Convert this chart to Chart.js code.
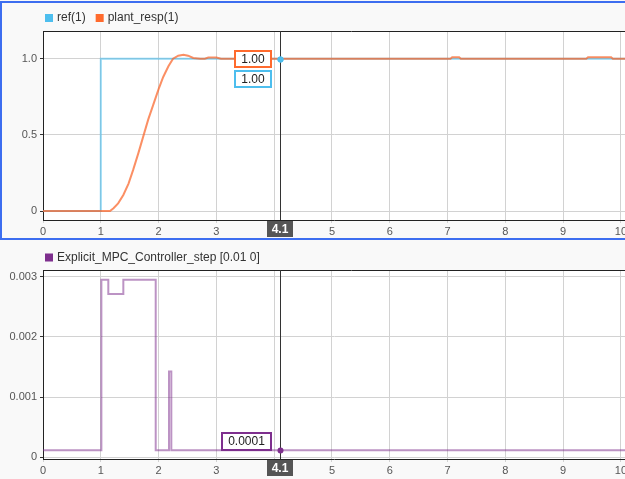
<!DOCTYPE html>
<html><head><meta charset="utf-8">
<script src="https://cdn.jsdelivr.net/npm/chart.js@4.4.0/dist/chart.umd.min.js"></script>
<style>
html,body{margin:0;padding:0;overflow:hidden;background:#f9f9f9;width:625px;height:479px;}
#top,#bot{position:absolute;left:0;width:660px;}
#top{top:0;height:240px}
#bot{top:240px;height:239px}
canvas{display:block}
</style></head><body>
<div id="top"><canvas id="c1" width="660" height="240"></canvas></div>
<div id="bot"><canvas id="c2" width="660" height="239"></canvas></div>
<script>
// ---- data ----
const refTime   = [0, 1.0, 1.0, 10.2];
const refValues = [0, 0,   1,   1];

const plantTime   = [0, 1.16, 1.22, 1.30, 1.39, 1.48, 1.56, 1.65, 1.735, 1.82, 1.91, 2.00, 2.08, 2.17, 2.25, 2.34, 2.43, 2.51, 2.60, 2.72, 2.80, 2.86, 3.00, 3.08, 7.05, 7.08, 7.20, 7.23, 9.40, 9.43, 9.83, 9.86, 10.2];
const plantValues = [0, 0,    0.018, 0.05, 0.105, 0.18, 0.27, 0.38, 0.49,  0.60, 0.70, 0.80, 0.88, 0.95, 1.00, 1.02, 1.026, 1.02, 1.005, 1.0, 1.0,  1.008, 1.008, 1.0, 1.0,  1.01, 1.01, 1.0,  1.0,  1.01, 1.01, 1.0,  1.0];

const ctrlTime   = [0,        1.01,    1.13,    1.39,    1.95,     2.18,     2.22,     10.2];
const ctrlValues = [0.000116, 0.00295, 0.00271, 0.00295, 0.000116, 0.001425, 0.000116, 0.000116];

const topLegend = ['ref(1)', 'plant_resp(1)'];
const botLegend = ['Explicit_MPC_Controller_step [0.01 0]'];
const cursorTime = 4.1;

const REF_C = '#4DBEEE', PLANT_C = '#FF6A2D', CTRL_C = '#7E2F8E';
const FONT = 'Arial, "Liberation Sans", sans-serif';

function pts(t, v){ return t.map((x,i)=>({x:x, y:v[i]})); }
function valueAt(t, v, x, stepped){
  for (let i = t.length-1; i >= 0; i--) {
    if (t[i] <= x) {
      if (stepped || i === t.length-1) return v[i];
      const f = (x - t[i])/(t[i+1]-t[i]);
      return v[i] + f*(v[i+1]-v[i]);
    }
  }
  return v[0];
}

const panel = {
  id: 'panel',
  beforeDraw(chart, args, o){
    const {ctx, chartArea:a} = chart;
    ctx.save();
    ctx.fillStyle = '#f9f9f9'; ctx.fillRect(0,0,chart.width,chart.height);
    ctx.fillStyle = '#ffffff'; ctx.fillRect(a.left,a.top,a.right-a.left,a.bottom-a.top);
    ctx.restore();
  },
  afterDraw(chart, args, o){
    const {ctx, chartArea:a} = chart;
    const xs = chart.scales.x, ys = chart.scales.y;
    ctx.save();
    // top frame line
    ctx.strokeStyle = '#222'; ctx.lineWidth = 1;
    ctx.beginPath(); ctx.moveTo(a.left, Math.floor(a.top)+0.5); ctx.lineTo(chart.width, Math.floor(a.top)+0.5); ctx.stroke();
    // legend
    ctx.font = '12px ' + FONT; ctx.textBaseline = 'middle'; ctx.textAlign = 'left';
    let lx = 45;
    o.legend.forEach(it => {
      ctx.fillStyle = it.color; ctx.fillRect(lx, o.legendY - 4, 8, 8);
      ctx.fillStyle = '#333'; ctx.fillText(it.text, lx + 12, o.legendY);
      lx += 12 + ctx.measureText(it.text).width + 10;
    });
    // cursor
    const cx = Math.round(xs.getPixelForValue(cursorTime)) + 0.5;
    ctx.strokeStyle = '#333'; ctx.lineWidth = 1;
    ctx.beginPath(); ctx.moveTo(cx, a.top); ctx.lineTo(cx, a.bottom); ctx.stroke();
    // value boxes
    o.values.forEach((it, k) => {
      const val = valueAt(it.t, it.v, cursorTime, it.stepped);
      const py = Math.round(ys.getPixelForValue(val));
      ctx.fillStyle = it.dot;
      ctx.beginPath(); ctx.arc(cx, py + 0.5, 3, 0, Math.PI*2); ctx.fill();
      const bx = Math.floor(cx) - 8 - it.w;
      const by = py + it.dy;
      ctx.fillStyle = '#fff'; ctx.fillRect(bx, by, it.w, it.h);
      ctx.strokeStyle = it.color; ctx.lineWidth = 2;
      ctx.strokeRect(bx + 1, by + 1, it.w - 2, it.h - 2);
      ctx.fillStyle = '#222'; ctx.font = '12px ' + FONT; ctx.textAlign = 'center';
      ctx.fillText(val.toFixed(it.dec), bx + it.w/2, by + it.h/2 + 0.5);
    });
    // x cursor label
    const lbw = 26, lbh = 16;
    ctx.fillStyle = '#555';
    ctx.fillRect(Math.floor(cx) - 13, Math.floor(a.bottom) + 1, lbw, lbh);
    ctx.fillStyle = '#fff'; ctx.font = 'bold 12px ' + FONT; ctx.textAlign = 'center';
    ctx.fillText(String(cursorTime), Math.floor(cx), Math.floor(a.bottom) + 1 + lbh/2 + 0.5);
    // selected panel border
    if (o.border) {
      ctx.strokeStyle = '#3D6EF0'; ctx.lineWidth = 2;
      ctx.strokeRect(1, 2, chart.width + 10, 237);
    }
    ctx.restore();
  }
};

function scalesFor(ymin, ymax, ystep, fmt){
  const gridC = '#d2d2d2';
  return {
    x: { type:'linear', min:0, max:10.07,
      afterFit(s){ s.height = 20; },
      ticks:{ stepSize:1, includeBounds:false, autoSkip:false, maxRotation:0, padding:2,
              color:'#555', font:{size:11, family:FONT} },
      grid:{ color:gridC, tickLength:3, tickColor:gridC },
      border:{ color:'#222', width:1 } },
    y: { type:'linear', min:ymin, max:ymax,
      afterFit(s){ s.width = 43; },
      ticks:{ stepSize:ystep, includeBounds:false, padding:3, color:'#555',
              font:{size:11, family:FONT}, callback: fmt },
      grid:{ color:gridC, tickLength:3, tickColor:'#333' },
      border:{ color:'#222', width:1 } }
  };
}

const common = {
  responsive:false, animation:false, devicePixelRatio:1,
  elements:{ point:{ radius:0 }, line:{ tension:0, borderWidth:2 } },
  events: []
};

new Chart(document.getElementById('c1'), {
  type:'line',
  data:{ datasets:[
    { label:topLegend[1], data:pts(plantTime, plantValues), borderColor:'rgba(250,100,40,0.72)', borderWidth:2 },
    { label:topLegend[0], data:pts(refTime, refValues), borderColor:'rgba(77,190,238,0.62)', borderWidth:2 }
  ]},
  options: Object.assign({}, common, {
    layout:{ padding:{ top:31, left:0, right:35, bottom:0 } },
    plugins:{ legend:{display:false}, tooltip:{enabled:false},
      panel:{ border:true, legendY:18,
        legend:[{text:topLegend[0], color:REF_C},{text:topLegend[1], color:PLANT_C}],
        values:[
          { t:plantTime, v:plantValues, stepped:false, color:PLANT_C, dot:REF_C, w:38, h:18, dy:-9, dec:2 },
          { t:refTime, v:refValues, stepped:false, color:REF_C, dot:REF_C, w:38, h:18, dy:11, dec:2 }
        ] } },
    scales: scalesFor(-0.059, 1.182, 0.5, v => v === 0 ? '0' : v.toFixed(1))
  }),
  plugins:[panel]
});

new Chart(document.getElementById('c2'), {
  type:'line',
  data:{ datasets:[
    { label:botLegend[0], data:pts(ctrlTime, ctrlValues), borderColor:'rgba(126,47,142,0.52)', borderWidth:2, stepped:true }
  ]},
  options: Object.assign({}, common, {
    layout:{ padding:{ top:30, left:0, right:35, bottom:0 } },
    plugins:{ legend:{display:false}, tooltip:{enabled:false},
      panel:{ border:false, legendY:17.5,
        legend:[{text:botLegend[0], color:CTRL_C}],
        values:[
          { t:ctrlTime, v:ctrlValues, stepped:true, color:CTRL_C, dot:CTRL_C, w:51, h:19, dy:-18, dec:4 }
        ] } },
    scales: scalesFor(-0.00003, 0.00311, 0.001, v => Math.abs(v) < 1e-9 ? '0' : v.toFixed(3))
  }),
  plugins:[panel]
});
</script>
</body></html>
